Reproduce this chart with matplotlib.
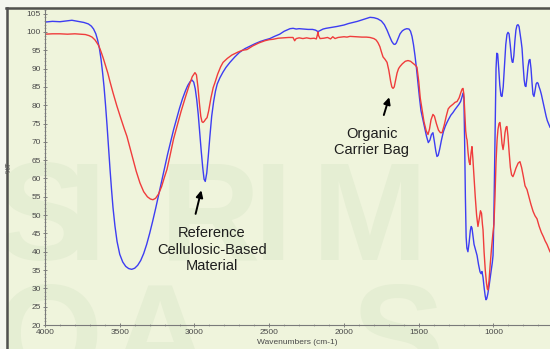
import matplotlib
matplotlib.use("Agg")
import matplotlib.pyplot as plt
from matplotlib.ticker import MultipleLocator
from matplotlib.lines import Line2D
from matplotlib.patches import Rectangle

plt.rcParams['font.family'] = ['Liberation Sans', 'DejaVu Sans']

# Reference cellulosic-based material (blue trace)
ref_wn = [4000, 3950, 3900, 3860, 3820, 3780, 3740, 3710, 3690, 3675, 3660, 3648, 3636, 3625, 3615,
          3605, 3595, 3585, 3575, 3565, 3555, 3545, 3532, 3518, 3500, 3480, 3460, 3440, 3420, 3400,
          3380, 3360, 3340, 3320, 3300, 3280, 3260, 3240, 3220, 3200, 3180, 3160, 3140, 3120, 3100,
          3080, 3060, 3045, 3030, 3017, 3005, 2995, 2985, 2975, 2965, 2955, 2945, 2936, 2928, 2918,
          2908, 2897, 2885, 2872, 2860, 2848, 2830, 2810, 2790, 2763, 2730, 2700, 2665, 2630, 2595,
          2560, 2530, 2496, 2465, 2430, 2400, 2361, 2340, 2320, 2300, 2270, 2240, 2210, 2190, 2174,
          2160, 2140, 2120, 2090, 2047, 2000, 1970, 1940, 1910, 1880, 1850, 1826, 1800, 1775, 1750,
          1730, 1712, 1695, 1680, 1668, 1659, 1650, 1638, 1625, 1610, 1595, 1580, 1565, 1555, 1545,
          1535, 1525, 1515, 1505, 1495, 1485, 1472, 1460, 1448, 1436, 1425, 1415, 1405, 1395, 1386,
          1378, 1370, 1360, 1348, 1335, 1322, 1311, 1300, 1285, 1271, 1258, 1245, 1232, 1220, 1211,
          1204, 1198, 1193, 1188, 1183, 1178, 1171, 1163, 1155, 1149, 1144, 1138, 1130, 1120, 1110,
          1100, 1090, 1083, 1077, 1070, 1062, 1055, 1050, 1045, 1038, 1030, 1022, 1015, 1008, 1003,
          998, 993, 988, 983, 978, 972, 965, 958, 950, 943, 935, 926, 918, 910, 903,
          896, 888, 880, 875, 870, 864, 857, 850, 843, 836, 829, 822, 815, 809, 802,
          795, 789, 783, 776, 769, 762, 756, 749, 742, 736, 729, 722, 715, 708, 702,
          695, 688, 680, 672, 664, 656, 648, 640, 629, 622]
ref_t = [102.7, 102.9, 102.8, 103.0, 103.2, 102.9, 102.6, 102.2, 101.6, 100.8, 99.5, 97.8, 95.5, 92.5, 89.0,
         85.0, 80.0, 74.5, 68.5, 62.5, 57.0, 52.0, 47.0, 42.8, 39.3, 37.2, 36.0, 35.4, 35.2, 35.5,
         36.3, 37.6, 39.5, 42.0, 45.0, 48.3, 51.8, 55.5, 59.2, 63.0, 66.6, 70.0, 73.3, 76.3, 79.2,
         81.8, 84.0, 85.4, 86.4, 86.9, 86.3, 84.5, 81.5, 77.5, 72.5, 67.5, 63.0, 59.8, 59.2, 61.5,
         66.0, 71.5, 77.0, 81.0, 83.8, 85.8, 87.5, 89.0, 90.3, 91.7, 93.2, 94.4, 95.4, 96.1, 96.8,
         97.4, 97.8, 98.2, 98.8, 99.4, 100.2, 100.9, 101.0, 100.8, 100.9, 100.8, 100.7, 100.7, 100.5, 100.1,
         100.4, 100.8, 101.0, 101.2, 101.5, 101.9, 102.3, 102.6, 102.9, 103.3, 103.7, 104.0, 103.9, 103.6, 103.0,
         102.0, 100.5, 98.8, 97.4, 96.7, 96.6, 97.0, 98.2, 99.5, 100.3, 100.7, 100.9, 100.8, 100.2, 98.8,
         96.5, 93.5, 90.0, 86.0, 82.0, 78.5, 76.0, 73.8, 71.5, 69.8, 70.5, 72.0, 72.5, 70.0, 67.5,
         66.0, 66.3, 68.0, 70.5, 72.8, 74.3, 75.3, 76.2, 77.3, 78.0, 78.8, 79.5, 80.2, 81.0, 82.2,
         83.3, 82.0, 70.0, 55.0, 44.0, 41.0, 40.0, 42.5, 45.8, 46.9, 46.5, 44.5, 42.0, 40.5, 39.0,
         36.5, 34.5, 34.0, 34.6, 33.0, 30.0, 27.8, 26.9, 27.2, 28.5, 30.5, 33.0, 35.0, 37.0, 39.0,
         48.0, 62.0, 78.0, 90.0, 94.2, 94.0, 90.0, 85.5, 82.6, 82.4, 85.0, 91.0, 96.5, 99.3, 99.9,
         99.5, 96.5, 93.0, 91.8, 91.7, 93.5, 97.5, 100.5, 101.8, 102.0, 101.5, 99.5, 97.5, 95.5, 91.0,
         87.0, 85.3, 85.1, 87.5, 90.5, 92.3, 92.5, 90.0, 86.0, 83.0, 82.4, 84.0, 85.8, 86.2, 86.0,
         85.0, 84.2, 83.0, 81.5, 80.0, 78.5, 77.0, 75.8, 74.7, 74.0]

# Organic carrier bag (red trace)
bag_wn = [4000, 3950, 3900, 3850, 3800, 3760, 3730, 3705, 3685, 3665, 3652, 3640, 3625, 3610, 3600,
          3580, 3565, 3545, 3520, 3495, 3470, 3452, 3430, 3410, 3390, 3365, 3340, 3315, 3295, 3278,
          3260, 3240, 3220, 3200, 3184, 3165, 3140, 3117, 3090, 3060, 3035, 3015, 2997, 2987, 2977,
          2967, 2958, 2950, 2943, 2935, 2925, 2916, 2905, 2890, 2875, 2863, 2845, 2825, 2809, 2780,
          2750, 2710, 2680, 2649, 2610, 2570, 2530, 2500, 2475, 2440, 2400, 2370, 2341, 2330, 2320,
          2300, 2275, 2250, 2225, 2200, 2185, 2178, 2174, 2170, 2160, 2135, 2110, 2090, 2075, 2060,
          2040, 2020, 2000, 1980, 1960, 1920, 1880, 1850, 1826, 1800, 1785, 1773, 1760, 1750, 1739,
          1725, 1712, 1700, 1688, 1680, 1672, 1664, 1655, 1645, 1635, 1625, 1610, 1590, 1572, 1555,
          1540, 1525, 1512, 1500, 1490, 1478, 1465, 1450, 1438, 1428, 1418, 1405, 1395, 1382, 1368,
          1355, 1344, 1330, 1316, 1303, 1291, 1270, 1257, 1244, 1230, 1218, 1210, 1204, 1198, 1192,
          1186, 1180, 1177, 1170, 1163, 1157, 1150, 1144, 1138, 1130, 1122, 1113, 1104, 1095, 1087,
          1080, 1074, 1070, 1063, 1055, 1047, 1041, 1037, 1030, 1022, 1013, 1005, 997, 990, 983,
          976, 970, 963, 957, 950, 943, 936, 930, 923, 916, 910, 903, 895, 887, 879,
          870, 862, 850, 835, 823, 812, 800, 789, 776, 765, 750, 735, 722, 709, 695,
          680, 665, 655, 642, 630, 622]
bag_t = [99.4, 99.5, 99.5, 99.4, 99.5, 99.4, 99.3, 99.0, 98.6, 97.8, 97.0, 96.2, 94.6, 92.8, 91.5,
         88.8, 86.4, 83.4, 79.9, 76.7, 73.6, 71.5, 68.1, 64.9, 62.0, 58.8, 56.4, 55.0, 54.4, 54.2,
         54.6, 55.8, 57.8, 60.5, 62.5, 66.0, 70.8, 74.2, 78.3, 82.3, 85.5, 87.8, 88.9, 88.3, 85.0,
         80.5, 77.0, 75.5, 75.3, 75.6, 76.2, 76.6, 78.5, 82.0, 84.8, 86.2, 88.5, 90.5, 91.7, 92.8,
         93.7, 94.5, 95.0, 95.2, 96.2, 97.0, 97.6, 97.9, 98.0, 98.3, 98.4, 98.5, 98.5, 97.6, 98.2,
         98.4, 98.2, 98.4, 98.2, 98.3, 98.1, 99.2, 100.0, 99.0, 98.2, 98.3, 98.5, 98.1, 98.7, 98.2,
         98.5, 98.6, 98.7, 98.6, 98.8, 98.7, 98.6, 98.6, 98.5, 98.2, 97.8, 97.1, 96.0, 94.6, 93.2,
         92.5, 91.7, 89.5, 86.5, 85.0, 84.6, 85.0, 86.8, 88.8, 90.0, 90.6, 91.3, 92.0, 92.2, 92.0,
         91.5, 91.0, 90.4, 86.5, 82.0, 78.8, 75.5, 73.0, 72.0, 73.5, 76.0, 77.5, 77.0, 75.0, 73.2,
         72.5, 72.5, 74.5, 77.0, 79.0, 79.6, 80.3, 80.8, 81.0, 82.0, 83.5, 84.4, 84.6, 83.0, 78.0,
         73.0, 71.0, 70.6, 67.0, 64.5, 63.8, 67.0, 68.7, 65.5, 60.0, 55.0, 50.0, 46.9, 49.0, 51.2,
         50.5, 47.5, 46.0, 40.0, 35.0, 31.5, 29.8, 29.6, 32.0, 36.5, 41.0, 44.5, 47.5, 55.0, 64.5,
         70.5, 73.4, 75.0, 75.3, 73.0, 69.5, 67.9, 69.5, 72.5, 74.0, 74.2, 71.5, 67.0, 63.0, 61.0,
         60.5, 61.3, 62.8, 64.2, 64.6, 63.0, 60.5, 58.0, 57.0, 55.3, 53.0, 51.0, 49.8, 49.0, 47.0,
         45.3, 44.0, 43.0, 42.0, 40.8, 40.0]

W, H = 550, 349
fig = plt.figure(figsize=(5.5, 3.49), dpi=100, facecolor='#eff4dc')

# faint background lettering
for ch, x, base in [('S', -4, 260), ('I', 68, 260), ('R', 160, 260), ('I', 254, 260), ('M', 312, 260),
                    ('Q', -6, 382), ('A', 110, 382), ('S', 352, 382)]:
    fig.text(x / W, 1 - base / H, ch, fontsize=100, fontweight='bold', color='#e5eed3',
             va='baseline', ha='left', zorder=-5)

# window border
fig.add_artist(Rectangle((0, 1 - 7 / H), 1, 7 / H, transform=fig.transFigure,
                         facecolor='#f4f6ef', edgecolor='none', zorder=-4))
fig.add_artist(Rectangle((0, 0), 6 / W, 1, transform=fig.transFigure,
                         facecolor='#f4f6ef', edgecolor='none', zorder=-4))
fig.add_artist(Line2D([6 / W, 1], [1 - 8 / H, 1 - 8 / H], transform=fig.transFigure,
                      color='#505050', lw=1.8))
fig.add_artist(Line2D([7 / W, 7 / W], [0, 1 - 8 / H], transform=fig.transFigure,
                      color='#505050', lw=1.8))

ax = fig.add_axes([45 / W, 24 / H, 505 / W, 315 / H])
ax.patch.set_alpha(0)

ax.plot(ref_wn, ref_t, color='#3d3df2', lw=1.0)
ax.plot(bag_wn, bag_t, color='#f03c3c', lw=1.0)

ax.set_xlim(4000, 622)
ax.set_ylim(20, 106)

for side in ['top', 'right']:
    ax.spines[side].set_visible(False)
for side in ['left', 'bottom']:
    ax.spines[side].set_color('#7a7a7a')
    ax.spines[side].set_linewidth(0.8)

ax.xaxis.set_major_locator(MultipleLocator(500))
ax.xaxis.set_minor_locator(MultipleLocator(100))
ax.yaxis.set_major_locator(MultipleLocator(5))
ax.yaxis.set_minor_locator(MultipleLocator(1))
ax.tick_params(which='major', direction='inout', length=3, width=0.6, color='#707070',
               labelsize=6, labelcolor='#4a4a4a', pad=1.5)
ax.tick_params(which='minor', direction='inout', length=1.5, width=0.5, color='#909090')

ax.set_xlabel('Wavenumbers (cm-1)', fontsize=6, color='#4a4a4a', labelpad=2)
ax.set_ylabel('%T', fontsize=5.5, color='#4a4a4a')
ax.yaxis.set_label_coords((13 - 45) / 505, 0.5)

ax.text(2883, 40.6, 'Reference\nCellulosic-Based\nMaterial', ha='center', va='center',
        fontsize=10.5, color='#1e1e1e', linespacing=1.2)
ax.annotate('', xy=(2950, 57.5), xytext=(2997, 49.6),
            arrowprops=dict(arrowstyle='-|>', color='black', lw=1.4, mutation_scale=10))

ax.text(1813, 69.9, 'Organic\nCarrier Bag', ha='center', va='center',
        fontsize=10.5, color='#1e1e1e', linespacing=1.2)
ax.annotate('', xy=(1692, 82.9), xytext=(1739, 76.6),
            arrowprops=dict(arrowstyle='-|>', color='black', lw=1.4, mutation_scale=10))

fig.savefig('out.png', dpi=100, facecolor=fig.get_facecolor())
